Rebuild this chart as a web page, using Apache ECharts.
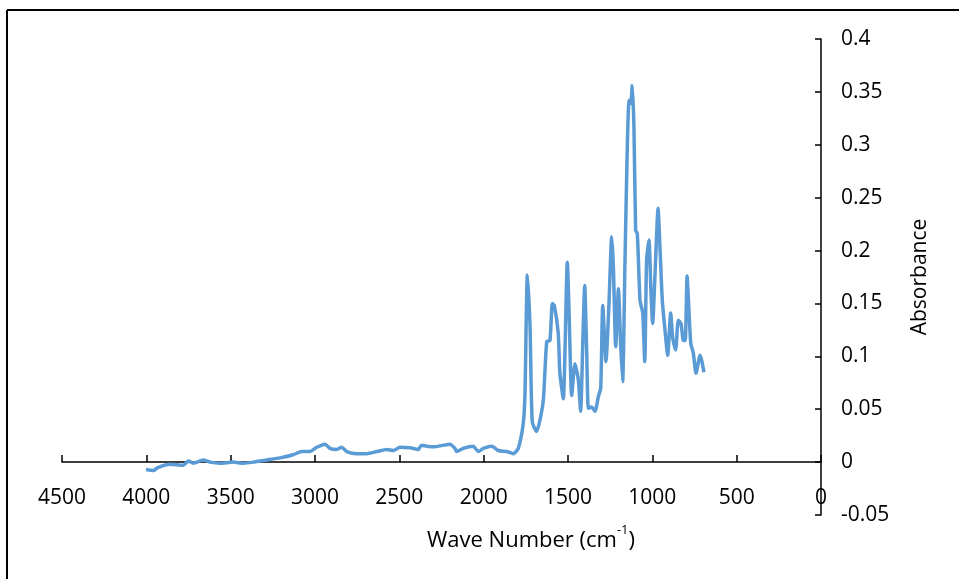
<!DOCTYPE html>
<html>
<head>
<meta charset="utf-8">
<script src="https://cdn.jsdelivr.net/npm/echarts@6/dist/echarts.min.js"></script>
<style>html,body{margin:0;padding:0;background:#fff}#c{width:959px;height:579px}</style>
</head>
<body>
<div id="c"></div>
<script>
var waveNumbers = [4002,3959,3929,3860,3781,3751,3722,3662,3623,3563,3484,3425,3366,3287,3208,3129,3079,3030,2990,2941,2911,2872,2842,2812,2753,2694,2634,2575,2536,2496,2437,2388,2368,2338,2289,2200,2170,2160,2121,2062,2032,2002,1952,1913,1863,1824,1795,1765,1755,1741,1725,1712,1686,1666,1646,1626,1607,1593,1581,1558,1548,1528,1504,1494,1478,1459,1439,1425,1413,1401,1389,1379,1360,1340,1320,1306,1294,1275,1257,1241,1231,1217,1201,1188,1176,1162,1148,1138,1128,1119,1109,1099,1089,1073,1057,1045,1034,1020,1008,998,984,966,955,941,925,909,891,879,862,846,830,816,805,794,784,772,757,741,717,707,694];
var absorbance = [-0.007,-0.008,-0.005,-0.002,-0.003,0.001,-0.001,0.002,0.000,-0.001,0.000,-0.001,0.000,0.002,0.004,0.007,0.010,0.010,0.014,0.017,0.013,0.012,0.014,0.010,0.008,0.008,0.010,0.012,0.011,0.014,0.0135,0.012,0.016,0.015,0.0145,0.017,0.013,0.010,0.013,0.015,0.010,0.013,0.015,0.011,0.010,0.008,0.013,0.037,0.065,0.177,0.128,0.038,0.029,0.040,0.059,0.114,0.115,0.150,0.148,0.122,0.084,0.060,0.189,0.144,0.063,0.093,0.078,0.048,0.109,0.167,0.103,0.051,0.052,0.048,0.062,0.070,0.148,0.095,0.150,0.213,0.185,0.109,0.164,0.112,0.076,0.191,0.301,0.342,0.339,0.356,0.317,0.219,0.216,0.153,0.141,0.095,0.191,0.210,0.160,0.131,0.178,0.240,0.204,0.153,0.125,0.101,0.141,0.117,0.106,0.134,0.131,0.115,0.115,0.176,0.147,0.112,0.103,0.084,0.101,0.096,0.085];
var xTitle = 'Wave Number (cm';
var xTitleSup = '-1';
var yTitle = 'Absorbance';

var seriesData = waveNumbers.map(function (w, i) { return [w, absorbance[i]]; });
var chart = echarts.init(document.getElementById('c'), null, {renderer: 'canvas'});
var font = '"Open Sans", "Noto Sans", sans-serif';
chart.setOption({
  animation: false,
  backgroundColor: '#fff',
  grid: {left: 62, right: 138, top: 39, bottom: 64, containLabel: false},
  xAxis: {
    type: 'value', min: 0, max: 4500, interval: 500, inverse: true,
    axisLine: {onZero: true, lineStyle: {color: '#000', width: 1.5}},
    axisTick: {inside: true, length: 7, lineStyle: {color: '#000', width: 1.5}},
    axisLabel: {color: '#000', fontFamily: font, fontSize: 21, margin: -27, showMaxLabel: true, showMinLabel: true,
      formatter: function (v) { return String(v); }},
    splitLine: {show: false}
  },
  yAxis: {
    type: 'value', position: 'right', min: -0.05, max: 0.4, interval: 0.05,
    axisLine: {show: true, onZero: false, lineStyle: {color: '#000', width: 1.5}},
    axisTick: {show: true, inside: true, length: 6, lineStyle: {color: '#000', width: 1.5}},
    axisLabel: {color: '#000', fontFamily: font, fontSize: 21, margin: 20,
      formatter: function (v) { return String(parseFloat(v.toFixed(2))); }},
    splitLine: {show: false}
  },
  series: [{
    type: 'line', data: seriesData, showSymbol: false, smooth: 0.2,
    lineStyle: {color: '#5B9BD5', width: 3.5}, itemStyle: {color: '#5B9BD5'}
  }],
  graphic: [
    {type: 'line', shape: {x1: 7, y1: 10, x2: 959, y2: 10}, style: {stroke: '#000', lineWidth: 2}},
    {type: 'line', shape: {x1: 7, y1: 10, x2: 7, y2: 579}, style: {stroke: '#000', lineWidth: 2}},
    {type: 'text', x: 531, y: 538, style: {
      text: '{a|' + xTitle + '}{s|' + xTitleSup + '}{a|)}',
      align: 'center', verticalAlign: 'middle',
      rich: {
        a: {fontFamily: font, fontSize: 22, fill: '#000', lineHeight: 28, verticalAlign: 'bottom'},
        s: {fontFamily: font, fontSize: 13, fill: '#000', lineHeight: 28, verticalAlign: 'top'}
      }
    }},
    {type: 'text', x: 920, y: 277, rotation: Math.PI / 2, style: {
      text: yTitle, align: 'center', verticalAlign: 'middle',
      fontFamily: font, fontSize: 21, fill: '#000'
    }}
  ]
});
</script>
</body>
</html>
